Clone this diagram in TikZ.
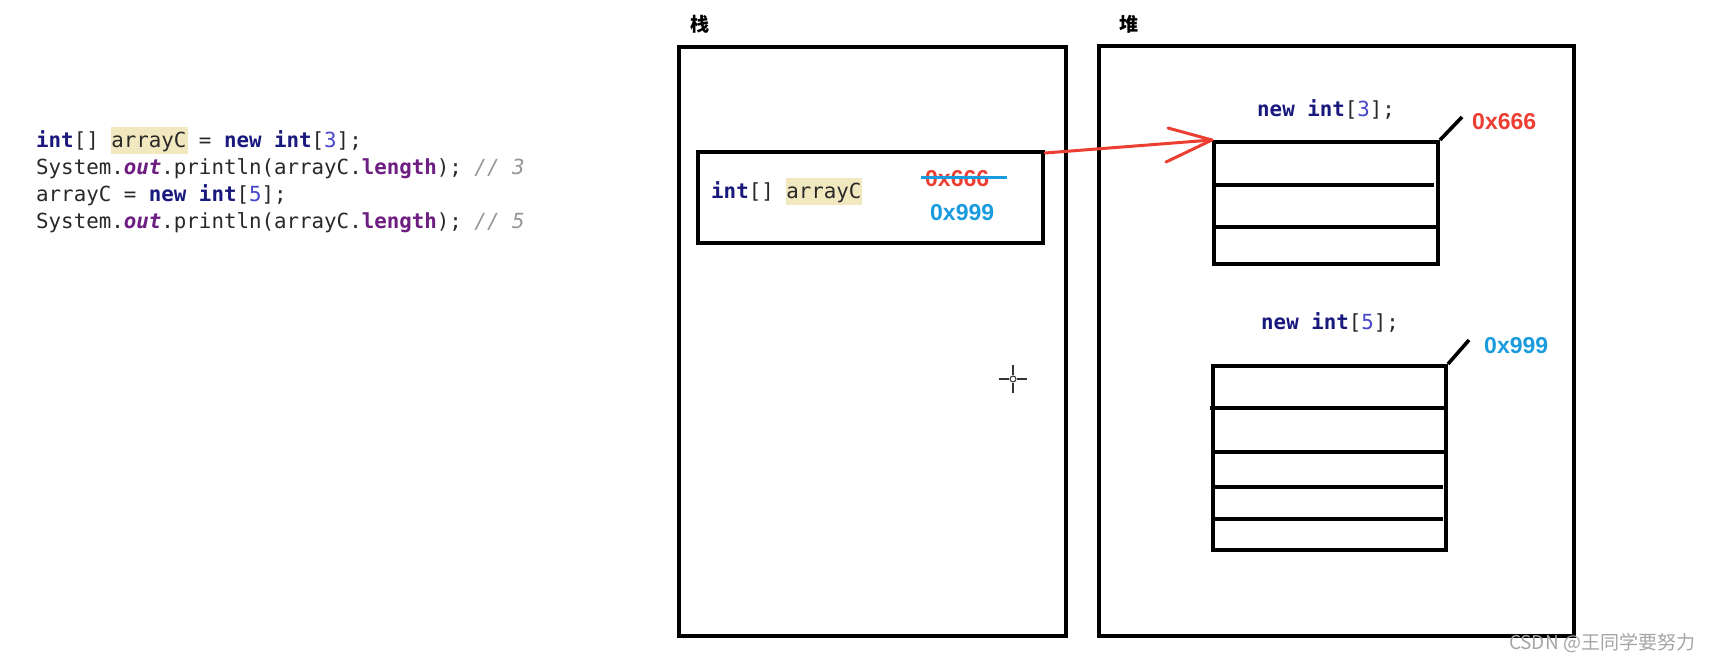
\documentclass[tikz,border=0pt]{standalone}
\usepackage{fontspec}
\setmainfont{Liberation Sans}
\setmonofont{DejaVu Sans Mono}
\newfontfamily\cjk{Noto Sans CJK SC}
\definecolor{kw}{RGB}{25,25,125}
\definecolor{num}{RGB}{70,70,200}
\definecolor{fld}{RGB}{110,30,130}
\definecolor{cmt}{RGB}{150,150,150}
\definecolor{txt}{RGB}{40,40,40}
\definecolor{hl}{RGB}{242,232,192}
\definecolor{addrred}{RGB}{236,62,50}
\definecolor{addrblue}{RGB}{25,155,222}
\definecolor{wm}{RGB}{165,165,165}
\tikzset{
  box/.style={draw=black, line width=4pt, inner sep=0pt, rectangle},
  row/.style={line width=3.6pt},
  code/.style={font=\fontsize{20.8}{24}\ttfamily, text=txt, anchor=base west, inner sep=0pt},
  addr/.style={font=\fontsize{23}{26}\bfseries, anchor=base west, inner sep=0pt},
  title/.style={font=\fontsize{19}{22}\cjk\bfseries, inner sep=0pt},
  hlbox/.style={fill=hl, draw=none},
}
\newcommand{\kwd}[1]{\textcolor{kw}{\bfseries #1}}
\newcommand{\nmb}[1]{\textcolor{num}{#1}}
\newcommand{\fldb}[1]{\textcolor{fld}{\bfseries #1}}
\newcommand{\fldi}[1]{\textcolor{fld}{\bfseries\itshape #1}}
\newcommand{\cmnt}[1]{\textcolor{cmt}{\itshape #1}}
\begin{document}
\begin{tikzpicture}[x=1pt,y=-1pt]
\useasboundingbox (0,0) rectangle (1711,662);
\fill[white] (0,0) rectangle (1711,662);
% code highlight
\fill[hlbox] (111,127) rectangle (188,154);
\node[code] (c1) at (36,147) {\kwd{int}[] arrayC = \kwd{new} \kwd{int}[\nmb{3}];};
\node[code] (c2) at (36,174) {System.\fldi{out}.println(arrayC.\fldb{length}); \cmnt{// 3}};
\node[code] (c3) at (36,201) {arrayC = \kwd{new} \kwd{int}[\nmb{5}];};
\node[code] (c4) at (36,228) {System.\fldi{out}.println(arrayC.\fldb{length}); \cmnt{// 5}};
% stack
\node[title] (stackt) at (700,24) {栈};
\node[box, minimum width=387pt, minimum height=589pt] (stack) at (872.5,341.5) {};
\node[box, minimum width=345pt, minimum height=91pt] (ref) at (870.5,197.5) {};
\fill[hlbox] (786,178) rectangle (862,205);
\node[code] (refv) at (711,198) {\kwd{int}[] arrayC};
\node[addr, text=addrred] (old) at (925,186) {0x666};
\draw[addrblue, line width=3pt] (old.base west) ++(-4,-9) -- ++(86,0);
\node[addr, text=addrblue] (new) at (930,220) {0x999};
% heap
\node[title] (heapt) at (1129,24) {堆};
\node[box, minimum width=475pt, minimum height=590pt] (heap) at (1336.5,341) {};
% array 3
\node[code] (n3) at (1257,116) {\kwd{new} \kwd{int}[\nmb{3}];};
\node[box, minimum width=224pt, minimum height=122pt] (arr3) at (1326,203) {};
\draw[row] (1212,185) -- (1434,185);
\draw[row] (1214,227) -- (1438,227);
\draw[row] (arr3.north east) -- ++(22,-23);
\node[addr, text=addrred] (a3) at (1472,129) {0x666};
% array 5
\node[code] (n5) at (1261,329) {\kwd{new} \kwd{int}[\nmb{5}];};
\node[box, minimum width=233pt, minimum height=184pt] (arr5) at (1329.5,458) {};
\draw[row] (1210,408) -- (1446,408);
\draw[row] (1213,452) -- (1446,452);
\draw[row] (1213,487) -- (1443,487);
\draw[row] (1213,519) -- (1443,519);
\draw[row] (arr5.north east) -- ++(21,-24);
\node[addr, text=addrblue] (a5) at (1484,353) {0x999};
% pointer arrow
\draw[addrred, line width=3pt, line cap=round] ([yshift=-3pt]ref.north east) -- (arr3.north west);
\draw[addrred, line width=3pt, line cap=round] (arr3.north west) -- ++(-44,-12);
\draw[addrred, line width=3pt, line cap=round] (arr3.north west) -- ++(-46,22);
% cursor
\coordinate (cur) at (1013,379);
\draw[black!80, line width=1.5pt] (cur) ++(-14,0) -- ++(10,0) (cur) ++(4,0) -- ++(10,0)
  (cur) ++(0,-14) -- ++(0,10) (cur) ++(0,4) -- ++(0,10);
\draw[black!80, line width=1pt] (cur) circle (3);
% watermark
\node[font=\fontsize{19}{22}\cjk, text=wm, anchor=center, inner sep=0pt] (wmk) at (1602,643) {CSDN @王同学要努力};
\end{tikzpicture}
\end{document}
